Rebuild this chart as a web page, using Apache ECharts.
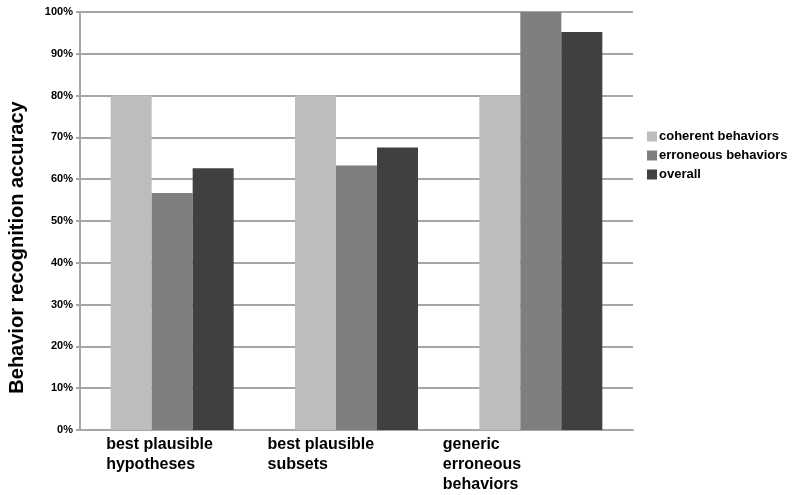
<!DOCTYPE html>
<html>
<head>
<meta charset="utf-8">
<style>html,body{margin:0;padding:0;background:#fff;}#c{width:794px;height:495px;}</style>
<script src="https://cdn.jsdelivr.net/npm/echarts@6/dist/echarts.min.js"></script>
</head>
<body>
<div id="c"></div>
<script>
const categories = ['best plausible\nhypotheses', 'best plausible\nsubsets', 'generic\nerroneous\nbehaviors'];
const seriesNames = ['coherent behaviors', 'erroneous behaviors', 'overall'];
const coherent = [80, 80, 80];
const erroneous = [56.7, 63.3, 100];
const overall = [62.6, 67.6, 95.2];
const yTicks = [0, 10, 20, 30, 40, 50, 60, 70, 80, 90, 100];
const yTitle = 'Behavior recognition accuracy';

const labelShift = [-66, -89, -98];
const colors = ['#bdbdbd', '#7f7f7f', '#404040'];
const values = [coherent, erroneous, overall];
const font = 'Liberation Sans, Arial, sans-serif';

const chart = echarts.init(document.getElementById('c'));
chart.setOption({
  animation: false,
  backgroundColor: '#ffffff',
  grid: { left: 80, right: 161, top: 12, bottom: 65 },
  legend: {
    orient: 'vertical', left: 642, top: 125,
    itemWidth: 10, itemHeight: 10, itemGap: 6,
    icon: 'rect',
    textStyle: { fontFamily: font, fontWeight: 'bold', fontSize: 13, color: '#000', padding: [0, 0, 0, -3] },
    data: seriesNames
  },
  xAxis: {
    type: 'category',
    data: categories.map((c, i) => ({ value: c, textStyle: { align: 'left', padding: [0, 0, 0, labelShift[i]] } })),
    axisLine: { lineStyle: { color: '#a6a6a6', width: 2 } },
    axisTick: { show: false },
    axisLabel: {
      align: 'left', margin: 5, fontFamily: font, fontWeight: 'bold', fontSize: 16,
      lineHeight: 20, color: '#000', interval: 0
    }
  },
  yAxis: {
    type: 'value', min: yTicks[0], max: yTicks[yTicks.length - 1], interval: 10,
    axisLine: { show: true, lineStyle: { color: '#a6a6a6', width: 2 } },
    axisTick: { show: true, length: 4, lineStyle: { color: '#a6a6a6', width: 2 } },
    splitLine: { lineStyle: { color: '#a6a6a6', width: 2 } },
    axisLabel: {
      margin: 7, fontFamily: font, fontWeight: 'bold', fontSize: 11, color: '#000',
      formatter: v => v + '%'
    }
  },
  graphic: [{
    type: 'text', left: 7, top: 'middle', rotation: Math.PI / 2,
    style: { text: yTitle, fontFamily: font, fontWeight: 'bold', fontSize: 20, fill: '#000' }
  }],
  series: seriesNames.map((n, i) => ({
    name: n, type: 'bar', data: values[i], barWidth: 41, barGap: '0%',
    itemStyle: { color: colors[i] }
  }))
});
</script>
</body>
</html>
